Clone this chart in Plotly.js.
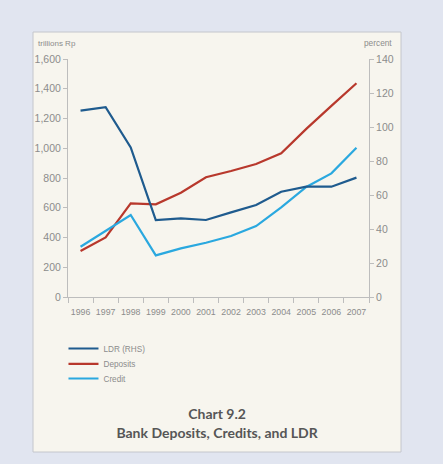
<!DOCTYPE html>
<html>
<head>
<meta charset="utf-8">
<script src="https://cdn.plot.ly/plotly-3.0.1.min.js"></script>
<style>html,body{margin:0;padding:0;background:#e1e5f0;}#chart{width:443px;height:464px;}</style>
</head>
<body>
<div id="chart"></div>
<script>
const years = ['1996','1997','1998','1999','2000','2001','2002','2003','2004','2005','2006','2007'];
const ldr = [109.6, 111.6, 88.0, 45.3, 46.3, 45.3, 49.8, 54.1, 61.9, 64.9, 64.9, 70.2];
const deposits = [309, 401, 630, 623, 701, 805, 847, 894, 966, 1130, 1285, 1437];
const credit = [338, 445, 551, 280, 327, 365, 410, 477, 602, 740, 831, 1004];
const seriesNames = ['LDR (RHS)', 'Deposits', 'Credit'];
const leftTitle = 'trillions Rp';
const rightTitle = 'percent';
const chartTitle = 'Chart 9.2<br>Bank Deposits, Credits, and LDR';

const FONT = '"Liberation Sans", Arial, sans-serif';
const TITLEFONT = 'Lato, "Liberation Sans", Arial, sans-serif';
const tickGrey = '#8c8c8c';
const axisGrey = '#bdbdbd';

const traces = [
  {x: years, y: ldr, name: seriesNames[0], yaxis: 'y2', type: 'scatter', mode: 'lines',
   legend: 'legend', line: {color: '#1f5b8e', width: 2.2}},
  {x: years, y: deposits, name: seriesNames[1], type: 'scatter', mode: 'lines',
   legend: 'legend2', line: {color: '#b8382c', width: 2.2}},
  {x: years, y: credit, name: seriesNames[2], type: 'scatter', mode: 'lines',
   legend: 'legend3', line: {color: '#2aa8df', width: 2.2}}
];

function legendAt(py) {
  return {x: -0.015, xanchor: 'left', y: (297 - py) / 238, yanchor: 'top', orientation: 'v',
          bgcolor: 'rgba(0,0,0,0)', itemwidth: 30,
          font: {family: FONT, size: 8.2, color: tickGrey}};
}

const layout = {
  width: 443, height: 464,
  margin: {l: 68, r: 74, t: 59, b: 167},
  paper_bgcolor: '#e1e5f0',
  plot_bgcolor: 'rgba(0,0,0,0)',
  font: {family: FONT, color: tickGrey},
  title: {text: chartTitle, x: 0.49, xanchor: 'center', y: 0.096, yanchor: 'middle',
          yref: 'container',
          font: {family: TITLEFONT, size: 14, color: '#565656', weight: 700}},
  xaxis: {type: 'category', range: [-0.5, 11.5], showgrid: false, zeroline: false,
          showline: true, linecolor: axisGrey, linewidth: 1,
          ticks: 'outside', tickson: 'boundaries', ticklen: 5, tickcolor: axisGrey,
          tickangle: 0, ticklabelstandoff: 6,
          tickfont: {family: FONT, size: 8.8, color: tickGrey}, fixedrange: true},
  yaxis: {range: [0, 1600], dtick: 200, tickformat: ',', showgrid: false, zeroline: false,
          showline: true, linecolor: axisGrey, linewidth: 1,
          ticks: 'outside', ticklen: 4, tickcolor: axisGrey,
          tickfont: {family: FONT, size: 10.5, color: tickGrey}},
  yaxis2: {range: [0, 140], dtick: 20, overlaying: 'y', side: 'right', showgrid: false, zeroline: false,
           showline: true, linecolor: axisGrey, linewidth: 1,
           ticks: 'outside', ticklen: 4, tickcolor: axisGrey,
           tickfont: {family: FONT, size: 10.5, color: tickGrey}},
  showlegend: true,
  legend: legendAt(334),
  legend2: legendAt(349.4),
  legend3: legendAt(364),
  shapes: [
    {type: 'rect', xref: 'paper', yref: 'paper', layer: 'below',
     x0: (33-68)/301, x1: (401-68)/301, y0: (297-452)/238, y1: (297-32)/238,
     fillcolor: '#f7f5ee', line: {color: '#c4c6cc', width: 1}}
  ],
  annotations: [
    {text: leftTitle, xref: 'paper', yref: 'paper', x: (36-68)/301, y: (297-43)/238,
     xanchor: 'left', yanchor: 'middle', showarrow: false,
     font: {family: FONT, size: 8, color: tickGrey}},
    {text: rightTitle, xref: 'paper', yref: 'paper', x: (394-68)/301, y: (297-43)/238,
     xanchor: 'right', yanchor: 'middle', showarrow: false,
     font: {family: FONT, size: 8.3, color: tickGrey}}
  ]
};

Plotly.newPlot('chart', traces, layout, {displayModeBar: false, staticPlot: true});
</script>
</body>
</html>
